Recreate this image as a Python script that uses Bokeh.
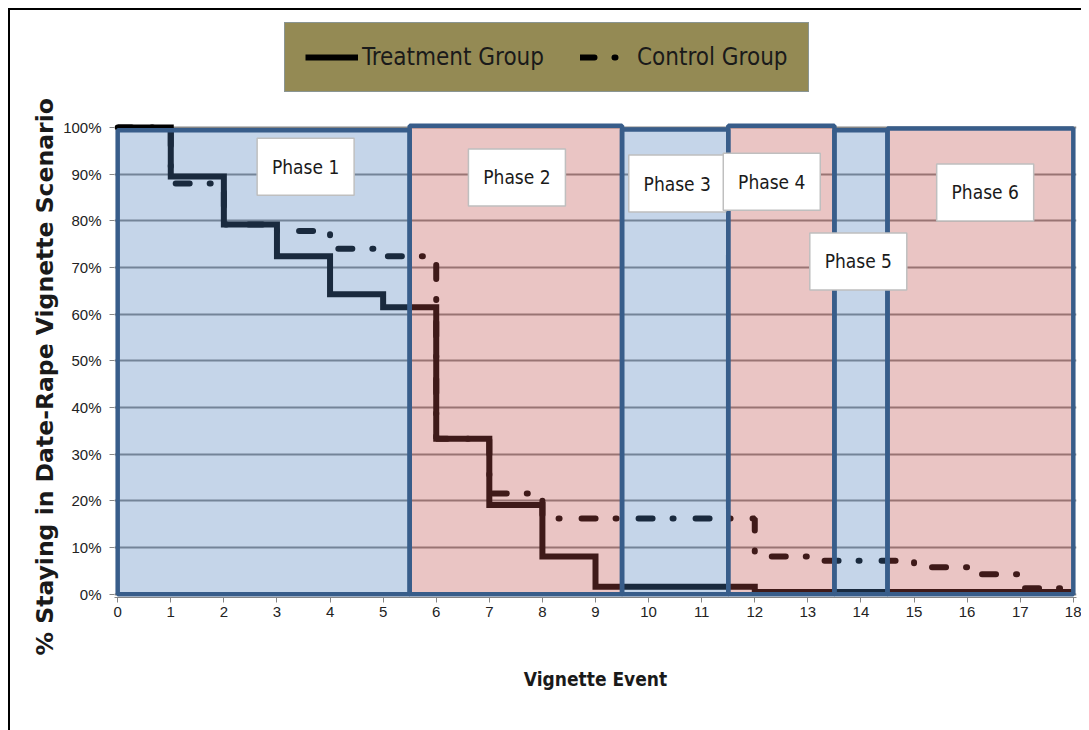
from bokeh.plotting import figure
from bokeh.models import Range1d, FixedTicker, PrintfTickFormatter, Legend, LegendItem, Title
from bokeh.core.properties import value
from bokeh.embed import file_html
from bokeh.resources import INLINE

# ---- data ----
events = list(range(0, 19))
treatment = [100, 89.5, 79.2, 72.4, 64.3, 61.5, 33.3, 19.1, 8.1, 1.6, 1.6, 1.6,
             0.5, 0.5, 0.5, 0.5, 0.5, 0.5, 0.5]
control = [100, 88.0, 79.2, 77.8, 74.0, 72.4, 33.3, 21.6, 16.2, 16.2, 16.2, 16.2,
           8.1, 7.2, 7.2, 5.8, 4.3, 1.3, 1.3]

phase_names = ["Phase 1", "Phase 2", "Phase 3", "Phase 4", "Phase 5", "Phase 6"]
phase_start = [0, 5.5, 9.5, 11.5, 13.5, 14.5]
phase_end = [5.5, 9.5, 11.5, 13.5, 14.5, 18]
phase_top = [99.4, 100.4, 99.6, 100.4, 99.4, 99.8]
phase_bottom = [0, 0, 0, 0, 0, 0]
phase_fill = ["#4F81BD", "#C0504D", "#4F81BD", "#C0504D", "#4F81BD", "#C0504D"]
label_x = [3.54, 7.52, 10.54, 12.32, 13.95, 16.34]
label_y = [91.6, 89.3, 88.0, 88.4, 71.3, 86.1]

y_ticks = list(range(0, 101, 10))
x_ticks = events

COND = "'DejaVu Sans Condensed', Roboto, sans-serif"

# frame reaches up to hold the legend box; y ticks/grid stop at 100%
p = figure(frame_width=962, frame_height=582,
           x_range=Range1d(-0.06, 18.06), y_range=Range1d(-0.7, 124.0),
           min_border_left=104, min_border_right=5, min_border_top=5, min_border_bottom=133,
           output_backend="svg", toolbar_location=None,
           background_fill_color="white", border_fill_color="white")
p.styles = {"margin-left": "8px", "margin-top": "8px",
            "border-left": "2px solid black", "border-top": "2px solid black"}
p.outline_line_color = None

p.xgrid.visible = False
p.ygrid.ticker = FixedTicker(ticks=y_ticks)
p.ygrid.grid_line_color = "#868686"
p.ygrid.grid_line_width = 2

p.yaxis.ticker = FixedTicker(ticks=y_ticks)
p.yaxis.formatter = PrintfTickFormatter(format="%d%%")
p.xaxis.ticker = FixedTicker(ticks=x_ticks)
for ax in (p.xaxis[0], p.yaxis[0]):
    ax.axis_line_color = "#868686"
    ax.major_tick_line_color = "#868686"
    ax.major_tick_out = 5
    ax.major_tick_in = 0
    ax.minor_tick_line_color = None
    ax.major_label_text_font = "Liberation Sans"
    ax.major_label_text_font_size = "15px"
    ax.major_label_text_color = "#222222"
p.yaxis.axis_line_color = None
p.yaxis.major_label_standoff = 8
p.xaxis.major_label_standoff = 4

# y-axis title as a left-side Title, started a little below the frame bottom
y_title = Title(text="% Staying in Date-Rape Vignette Scenario", align="left",
                offset=-58, standoff=4,
                text_font="DejaVu Sans", text_font_style="bold",
                text_font_size="23.5px", text_color="#1a1a1a")
p.add_layout(y_title, "left")

p.xaxis.axis_label = "Vignette Event"
p.xaxis.axis_label_text_font = COND
p.xaxis.axis_label_text_font_style = "bold"
p.xaxis.axis_label_text_font_size = "19px"
p.xaxis.axis_label_text_color = "#1a1a1a"
p.xaxis.axis_label_standoff = 48

# ---- series ----
r_t = p.step(events, treatment, mode="after", line_width=6, line_color="black",
             line_join="miter")
r_c = p.step(events, control, mode="after", line_width=6, line_color="black",
             line_dash="14 20 1 22", line_cap="round")

# ---- phase areas (translucent, over the lines) ----
p.quad(left=phase_start, right=phase_end, top=phase_top, bottom=phase_bottom,
       fill_color=phase_fill, fill_alpha=0.33, line_color=None)
p.quad(left=phase_start, right=phase_end, top=phase_top, bottom=phase_bottom,
       fill_color=None, line_color="#385D8A", line_width=4.5)

# ---- phase labels ----
p.rect(x=label_x, y=label_y, width=97, height=57, width_units="screen", height_units="screen",
       fill_color="white", line_color="#BFBFBF", line_width=1.5)
p.text(x=label_x, y=label_y, text=phase_names, text_align="center", text_baseline="middle",
       text_font=value(COND), text_font_size="19px", text_color="#1a1a1a")

# ---- legend ----
legend = Legend(items=[LegendItem(label="Treatment Group", renderers=[r_t]),
                       LegendItem(label="Control Group", renderers=[r_c])],
                orientation="horizontal", location=(170, 505), margin=0,
                background_fill_color="#948A54", background_fill_alpha=1.0,
                border_line_color="#7F9FCF", border_line_width=1.5,
                padding=20, spacing=36, glyph_width=53, glyph_height=20,
                label_standoff=4, label_height=20,
                label_text_font=COND, label_text_font_size="24px",
                label_text_color="#1a1a1a")
p.add_layout(legend)

open("out.html", "w").write(file_html(p, INLINE))
